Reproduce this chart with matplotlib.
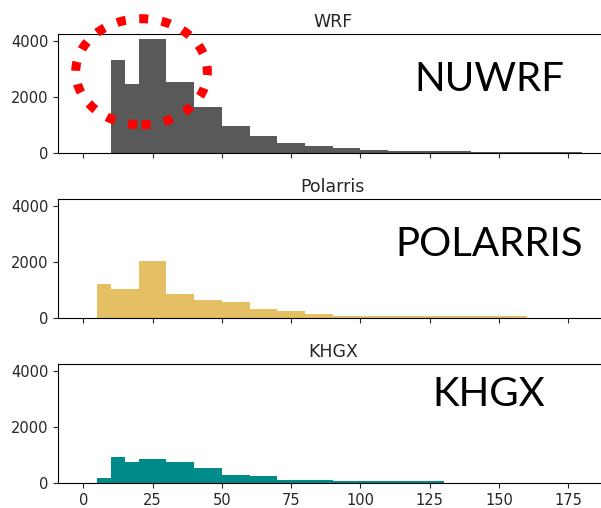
import numpy as np
import matplotlib
matplotlib.use("Agg")
import matplotlib.pyplot as plt
from matplotlib.patches import Ellipse

# bin edges (non-uniform: 5 wide up to 20, then 10 wide)
edges = [0, 5, 10, 15, 20, 30, 40, 50, 60, 70, 80, 90, 100,
         110, 120, 130, 140, 150, 160, 170, 180]

wrf = [0, 0, 3300, 2460, 4070, 2520, 1620, 965, 585, 355, 250, 180, 108,
       62, 52, 44, 36, 30, 24, 18]
polarris = [0, 1190, 1025, 1020, 2025, 845, 630, 570, 300, 235, 120, 76, 72,
            70, 68, 66, 64, 62, 0, 0]
khgx = [0, 190, 915, 740, 845, 740, 525, 295, 240, 118, 112, 66, 62,
        58, 54, 0, 0, 0, 0, 0]

titles = ["WRF", "Polarris", "KHGX"]
labels = ["NUWRF", "POLARRIS", "KHGX"]
colors = ["#595959", "#e5bf63", "#008b8b"]
series = [wrf, polarris, khgx]

xticks = [0, 25, 50, 75, 100, 125, 150, 175]
yticks = [0, 2000, 4000]

fig = plt.figure(figsize=(6.01, 5.08), dpi=100)

bottoms = [0.6994, 0.3746, 0.0492]
label_y = [80, 245, 394]   # pixel centres of the big labels

axes = []
for i in range(3):
    ax = fig.add_axes([0.0972, bottoms[i], 0.9128, 0.2337])
    axes.append(ax)
    ax.hist(edges[:-1], bins=edges, weights=series[i], color=colors[i])
    ax.set_xlim(-9, 189)
    ax.set_ylim(0, 4240)
    ax.set_xticks(xticks)
    ax.set_yticks(yticks)
    ax.tick_params(labelsize=10.5, colors="#262626")
    if i < 2:
        ax.set_xticklabels([])
    ax.set_title(titles[i], fontsize=12.5, color="#262626", pad=5)
    ax.text(489 / 601, 1 - label_y[i] / 508, labels[i], transform=fig.transFigure,
            ha="center", va="center", fontsize=29, family="Lato", color="black")

# red dotted ring around the WRF peak
ring = Ellipse((21, 2890), 47.5, 3790, fill=False, edgecolor="#ff0000",
               linewidth=6.5, linestyle=(0, (1.0, 1.5)), clip_on=False, zorder=5)
axes[0].add_patch(ring)

fig.savefig("out.png", dpi=100)
